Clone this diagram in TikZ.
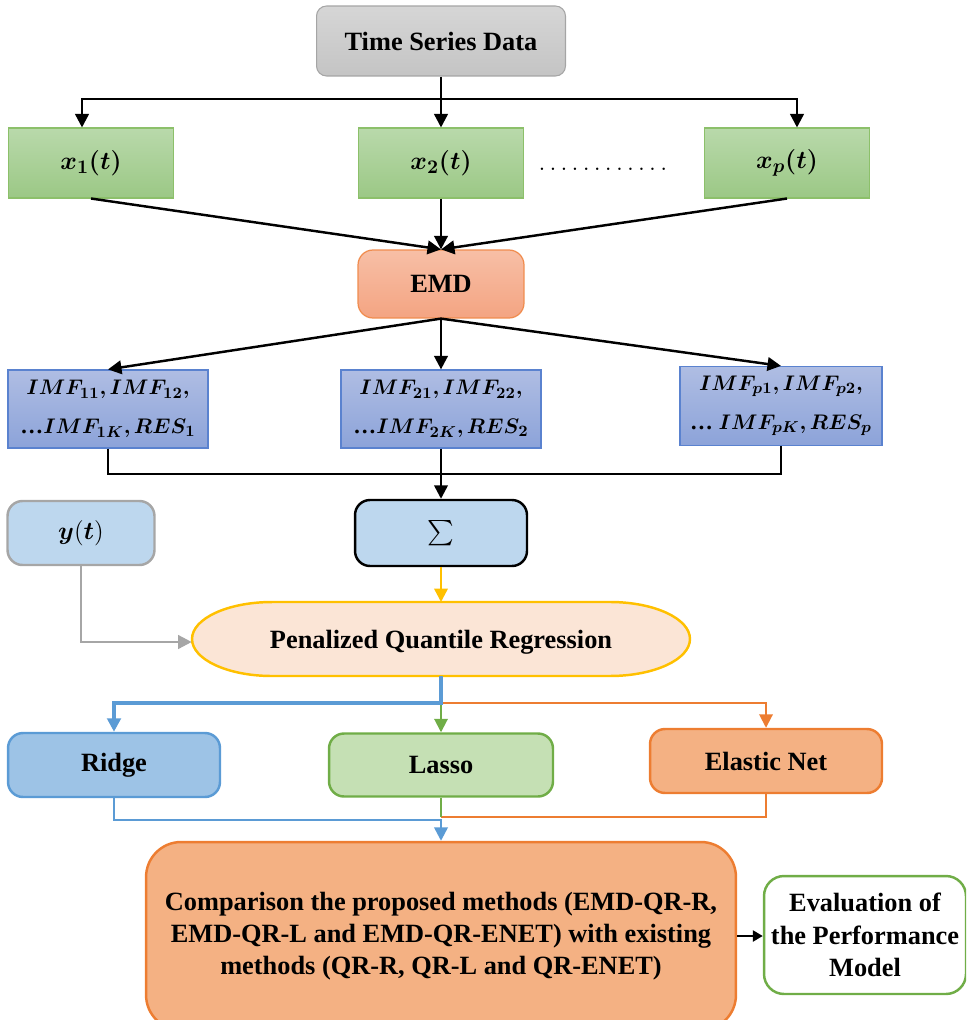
\documentclass[tikz,border=0pt]{standalone}
\usepackage{amsmath}
\usepackage{fontspec}
\setmainfont{Liberation Serif}
\usepackage{bm}
\usetikzlibrary{arrows.meta}
\definecolor{tsdtop}{HTML}{D6D6D6}
\definecolor{tsdbot}{HTML}{C4C4C4}
\definecolor{tsdline}{HTML}{A5A5A5}
\definecolor{xgtop}{HTML}{B9D9AB}
\definecolor{xgbot}{HTML}{9BC885}
\definecolor{xgline}{HTML}{8CC06A}
\definecolor{emdtop}{HTML}{F7BFA6}
\definecolor{emdbot}{HTML}{F4A482}
\definecolor{emdline}{HTML}{F08C4E}
\definecolor{imftop}{HTML}{AFBDE3}
\definecolor{imfbot}{HTML}{8CA3D9}
\definecolor{imfline}{HTML}{5A82CF}
\definecolor{sumfill}{HTML}{BDD7EE}
\definecolor{ygray}{HTML}{A6A6A6}
\definecolor{pqrfill}{HTML}{FBE5D6}
\definecolor{pqrline}{HTML}{FFC000}
\definecolor{ridgefill}{HTML}{9DC3E6}
\definecolor{bluec}{HTML}{5B9BD5}
\definecolor{lassofill}{HTML}{C5E0B4}
\definecolor{greenc}{HTML}{70AD47}
\definecolor{orfill}{HTML}{F4B183}
\definecolor{orangec}{HTML}{ED7D31}
\newcommand{\imfdots}{\mbox{\bfseries …}}
\begin{document}
\begin{tikzpicture}[x=0.02cm,y=-0.02cm,
    font=\fontsize{15}{18.4}\selectfont\bfseries,
    box/.style={rectangle,inner sep=0pt,align=center},
    rbox/.style={box,rounded corners=0.3cm,line width=1.4pt},
    grbox/.style={box,draw=xgline,line width=0.6pt,top color=xgtop,bottom color=xgbot,minimum width=3.3cm,minimum height=1.4cm},
    imfbox/.style={box,draw=imfline,line width=0.7pt,top color=imftop,bottom color=imfbot,minimum width=4cm,minimum height=1.56cm,font=\fontsize{13}{22}\selectfont},
    tip/.style={-{Triangle[length=0.27cm,width=0.27cm]}},
    blk/.style={line width=1.4pt,tip},
    blkline/.style={line width=1.4pt}]
\clip (0,0) rectangle (966,1020);

\node[rbox,draw=tsdline,line width=0.6pt,top color=tsdtop,bottom color=tsdbot,minimum width=4.98cm,minimum height=1.4cm,rounded corners=0.2cm] (tsd) at (441,41) {Time Series Data};

\node[grbox] (x1) at (91,163) {$\bm{x_1(t)}$};
\node[grbox] (x2) at (441,163) {$\bm{x_2(t)}$};
\node[grbox] (xp) at (787,163) {$\bm{x_p(t)}$};
\node[box,anchor=base] (dots) at (603,171) {\mdseries$\ldots\ldots\ldots\ldots$};

\node[rbox,draw=emdline,line width=0.7pt,top color=emdtop,bottom color=emdbot,minimum width=3.32cm,minimum height=1.36cm] (emd) at (441,284) {EMD};

\node[imfbox] (imf1) at (108,409) {$\bm{IMF_{11},IMF_{12},}$\\$\imfdots\bm{IMF_{1K},RES_1}$};
\node[imfbox] (imf2) at (441,409) {$\bm{IMF_{21},IMF_{22},}$\\$\imfdots\bm{IMF_{2K},RES_2}$};
\node[imfbox,minimum width=4.04cm,minimum height=1.58cm] (imfp) at (781,406) {$\bm{IMF_{p1},IMF_{p2},}$\\$\imfdots\ \bm{IMF_{pK},RES_p}$};

\node[rbox,draw=black,fill=sumfill,minimum width=3.44cm,minimum height=1.32cm] (sum) at (441,533) {\fontsize{14}{14}\selectfont\mdseries$\sum$};
\node[rbox,draw=ygray,fill=sumfill,minimum width=2.94cm,minimum height=1.28cm] (yt) at (81,533) {$\bm{y}(\bm{t})$};

\filldraw[fill=pqrfill,draw=pqrline,line width=1.4pt] (272,602) -- (610,602) arc (90:-90:1.6cm and 0.74cm) -- (272,676) arc (270:90:1.6cm and 0.74cm) -- cycle;
\node[box,minimum width=9.96cm,minimum height=1.48cm] (pqr) at (441,642) {Penalized Quantile Regression};

\node[rbox,draw=bluec,fill=ridgefill,minimum width=4.24cm,minimum height=1.28cm] (ridge) at (114,765) {Ridge};
\node[rbox,draw=greenc,fill=lassofill,minimum width=4.48cm,minimum height=1.26cm] (lasso) at (441,765) {Lasso};
\node[rbox,draw=orangec,fill=orfill,minimum width=4.64cm,minimum height=1.28cm] (enet) at (766,761) {Elastic Net};

\node[rbox,draw=orangec,fill=orfill,minimum width=11.8cm,minimum height=3.76cm,rounded corners=0.7cm] (comp) at (441,936) {Comparison the proposed methods (EMD-QR-R,\\EMD-QR-L and EMD-QR-ENET) with existing\\methods (QR-R, QR-L and QR-ENET)};
\node[rbox,draw=greenc,fill=white,minimum width=4.04cm,minimum height=2.36cm,rounded corners=0.4cm] (eval) at (865,935) {Evaluation of\\the Performance\\Model};

\coordinate (split) at (441,99);
\coordinate (join) at (441,474);
\coordinate (fork) at (441,703);
\coordinate (omerge) at (441,817);
\coordinate (bmerge) at (441,820);

\draw[blk] (tsd) -- (x2);
\draw[blk] (split) -| ([xshift=-0.18cm]x1.north);
\draw[blk] (split) -| ([xshift=0.2cm]xp.north);
\foreach \n in {1,2,p}
{
\draw[blk] (x\n.south) -- (emd.north);
\draw[blk] (emd.south) -- (imf\n.north);
}
\draw[blkline] (imf1.south) |- (join);
\draw[blkline] (imfp.south) |- (join);
\draw[blk] (imf2) -- (sum);
\draw[tip,pqrline,line width=1.4pt] (sum.south) -- (sum.south |- 0,602);
\draw[tip,ygray,line width=1.4pt] (yt.south) |- (pqr.west);

\draw[tip,orangec,line width=1.1pt] (fork) -| (enet.north);
\draw[tip,greenc,line width=1.1pt] (fork) -- (lasso.north);
\draw[tip,bluec,line width=2.3pt] (sum.south |- 0,676) -- (fork) -| (ridge.north);

\draw[orangec,line width=1.1pt] (enet.south) |- (omerge);
\draw[greenc,line width=1.1pt] (lasso.south) -- (omerge);
\draw[tip,bluec,line width=1.4pt] (ridge.south) |- (bmerge) -- (comp.north);

\draw[line width=1.4pt,-{Triangle[length=0.2cm,width=0.22cm]}] (comp.east) -- (comp.east -| eval.west);
\end{tikzpicture}
\end{document}
